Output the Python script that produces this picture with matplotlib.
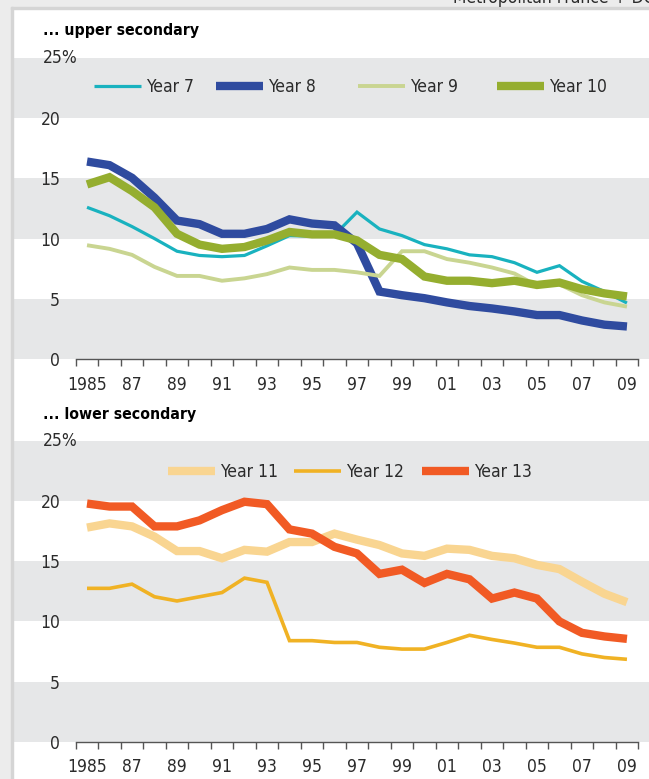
import matplotlib.pyplot as plt
from matplotlib import font_manager
from matplotlib.legend import Legend
from matplotlib.patches import Rectangle

# a narrow font is closest to the original; use what is installed
installed = {(f.name, f.stretch) for f in font_manager.fontManager.ttflist}
names = {n for n, s in installed}
if 'Liberation Sans Narrow' in names:
    plt.rcParams['font.family'] = ['Liberation Sans Narrow', 'DejaVu Sans']
    fs = 14
elif ('DejaVu Sans', 'condensed') in installed:
    plt.rcParams['font.family'] = ['DejaVu Sans']
    plt.rcParams['font.stretch'] = 'condensed'
    fs = 12.5
else:
    plt.rcParams['font.family'] = ['Roboto', 'DejaVu Sans']
    fs = 12.5

# data (percent, 1985-2009)
years = list(range(1985, 2010))
tick_years = list(range(1985, 2010, 2))
tick_labels = ['1985', '87', '89', '91', '93', '95', '97', '99', '01', '03', '05', '07', '09']

year7 = [12.6, 11.9, 11.0, 10.0, 8.95, 8.6, 8.5, 8.6, 9.4, 10.25, 10.2, 10.3, 12.2,
         10.8, 10.25, 9.5, 9.15, 8.65, 8.5, 8.0, 7.2, 7.75, 6.45, 5.6, 4.65]
year8 = [16.4, 16.1, 15.05, 13.4, 11.5, 11.2, 10.4, 10.4, 10.8, 11.6, 11.25, 11.1, 9.6,
         5.6, 5.3, 5.05, 4.7, 4.4, 4.2, 3.95, 3.65, 3.65, 3.2, 2.85, 2.7]
year9 = [9.45, 9.15, 8.65, 7.65, 6.9, 6.9, 6.5, 6.7, 7.05, 7.6, 7.4, 7.4, 7.2,
         6.9, 8.95, 8.95, 8.3, 8.0, 7.6, 7.1, 6.1, 6.2, 5.3, 4.7, 4.35]
year10 = [14.5, 15.1, 13.95, 12.6, 10.4, 9.5, 9.15, 9.3, 9.85, 10.55, 10.35, 10.35, 9.85,
          8.65, 8.3, 6.85, 6.5, 6.5, 6.3, 6.5, 6.15, 6.35, 5.8, 5.45, 5.2]

year11 = [17.8, 18.15, 17.9, 17.05, 15.85, 15.85, 15.25, 15.95, 15.8, 16.6, 16.6, 17.3, 16.8,
          16.35, 15.65, 15.45, 16.05, 15.95, 15.45, 15.25, 14.7, 14.35, 13.3, 12.3, 11.6]
year12 = [12.75, 12.75, 13.1, 12.05, 11.7, 12.05, 12.4, 13.6, 13.25, 8.4, 8.4, 8.25, 8.25,
          7.85, 7.7, 7.7, 8.25, 8.85, 8.5, 8.2, 7.85, 7.85, 7.3, 7.0, 6.85]
year13 = [19.8, 19.55, 19.55, 17.9, 17.9, 18.4, 19.25, 19.95, 19.75, 17.65, 17.3, 16.2, 15.65,
          13.95, 14.3, 13.2, 13.95, 13.5, 11.9, 12.4, 11.9, 10.0, 9.05, 8.75, 8.55]

upper = [('Year 7', year7, '#19b2bf', 2.3, 0.1274),
         ('Year 8', year8, '#2f4b9f', 6.0, 0.319),
         ('Year 9', year9, '#c9d591', 2.8, 0.5425),
         ('Year 10', year10, '#95ae2f', 6.0, 0.761)]
lower = [('Year 11', year11, '#f9d591', 6.0, 0.2437),
         ('Year 12', year12, '#f0b224', 2.6, 0.4418),
         ('Year 13', year13, '#f15a24', 6.0, 0.643)]

band = '#e6e7e8'
text_col = '#2b2b2b'

fig = plt.figure(figsize=(6.49, 7.79), dpi=100)
fig.patch.set_facecolor('white')

# grey page frame on the top and left
fig.patches.append(Rectangle((0, 1 - 8 / 779), 1, 8 / 779, transform=fig.transFigure,
                             color='#ececec', zorder=0))
fig.patches.append(Rectangle((0, 0), 11 / 649, 1, transform=fig.transFigure,
                             color='#ececec', zorder=0))
fig.patches.append(Rectangle((11 / 649, 0), 2 / 649, 1 - 7 / 779, transform=fig.transFigure,
                             color='#d5d5d5', zorder=0))
fig.patches.append(Rectangle((11 / 649, 1 - 9 / 779), 1, 2 / 779, transform=fig.transFigure,
                             color='#d5d5d5', zorder=0))
# source note, cut by the top edge as in the original
fig.text(453 / 649, 1 - 3 / 779, 'Metropolitan France + DOM', fontsize=fs,
         color=text_col, va='baseline', ha='left')


def make_panel(rect, series, title, leg_y):
    ax = fig.add_axes(rect)
    ax.set_facecolor('white')
    # grey bands every other 5 points
    for lo in (0, 10, 20):
        ax.axhspan(lo, lo + 5, color=band, lw=0, zorder=0)
    for name, vals, col, lw, lx in series:
        ax.plot(years, vals, color=col, lw=lw, solid_joinstyle='miter',
                solid_capstyle='butt', label=name)
    ax.set_xlim(1981.71, 2009.98)
    ax.set_ylim(0, 25)
    for s in ('left', 'right', 'top'):
        ax.spines[s].set_visible(False)
    ax.spines['bottom'].set_bounds(1984.5, 2009.5)
    ax.spines['bottom'].set_color('#555555')
    ax.spines['bottom'].set_linewidth(1.0)
    ax.set_xticks(tick_years)
    ax.set_xticklabels(tick_labels)
    ax.set_xticks([y - 0.5 for y in years] + [2009.5], minor=True)
    ax.tick_params(axis='x', which='major', length=0, pad=12, labelsize=fs, labelcolor=text_col)
    ax.tick_params(axis='x', which='minor', length=5, width=1.0, color='#555555')
    ax.set_yticks([0, 5, 10, 15, 20])
    ax.set_yticklabels(['0', '5', '10', '15', '20'])
    ax.tick_params(axis='y', length=0, pad=-34, labelsize=fs, labelcolor=text_col)
    ax.text(30 / 636, 25, '25%', transform=ax.get_yaxis_transform(), fontsize=fs,
            color=text_col, ha='left', va='center')
    ax.text(30 / 636, 1.0 + 27 / 301, title, transform=ax.transAxes, fontsize=fs - 1.2,
            fontweight='bold', color='black', ha='left', va='center')
    # one legend box per series, placed like the original
    for line, (name, vals, col, lw, lx) in zip(ax.get_lines(), series):
        leg = Legend(ax, [line], [name], loc='center left', bbox_to_anchor=(lx, leg_y),
                     frameon=False, fontsize=fs, handlelength=2.7, handletextpad=0.3,
                     borderpad=0, borderaxespad=0, labelcolor=text_col)
        ax.add_artist(leg)
    return ax


make_panel([13 / 649, 1 - 359 / 779, 636 / 649, 301 / 779], upper,
           '... upper secondary', 0.9037)
make_panel([13 / 649, 1 - 741.7 / 779, 636 / 649, 300.7 / 779], lower,
           '... lower secondary', 0.897)

plt.savefig('out.png', dpi=100)
